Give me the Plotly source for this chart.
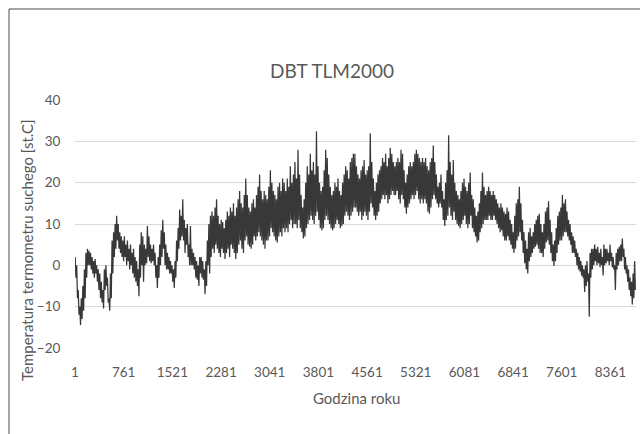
import plotly.graph_objects as go

# Daily maximum / minimum dry-bulb temperature [st.C]
tmax = [
    2, 0, -6, -10, -8, -5, -1, 3, 4, 3.5,
    3, 2, 1, 1.5, 0, -1, -2, -4, -6, -1,
    0, -3, -8, -2, 6, 8, 10, 12, 10, 8,
    7, 6, 7, 5, 6, 4, 5, 3, 4, 2,
    1, -1, 5, 8, 7, 5, 4, 9.5, 7, 5,
    4, 5, 3, 0, 2, 5, 8.5, 11, 8, 5,
    3, 2, 1, 0, -1, 1, 6, 9, 13.5, 12,
    16, 11, 9, 10, 5, 9.5, 4, 3, 2, 1,
    0, 2, 2, 1, -1, 1, 6, 10, 12, 13,
    12, 14, 16, 12, 10, 11, 10.5, 9, 11, 13,
    12, 14, 13, 15, 12, 14, 16, 18, 15, 14,
    17, 21, 17, 14, 13, 15, 16, 14, 17, 19,
    22, 18, 16, 18, 17, 16, 19, 23, 20, 18,
    17, 16, 19, 20, 18, 21, 20, 18, 21, 19,
    24, 20, 22, 25, 21, 28, 22, 17, 14, 16,
    20, 24, 22, 27, 23, 25, 22, 32.5, 24, 20,
    18, 19, 23, 28, 26, 22, 19, 17, 18, 20,
    19, 21, 18, 17, 20, 22, 24, 23, 21, 25,
    26, 27, 27, 24, 22, 21, 23, 24, 25.5, 22,
    23, 24, 32, 25, 21, 18, 20, 22, 23, 24,
    26, 25, 27, 24, 26, 28.5, 27, 25, 24, 25,
    26, 25, 28, 27, 23, 20, 22, 24, 25, 24,
    25, 27, 28, 27, 26, 25, 26, 25, 26, 24,
    23, 25, 26, 29, 25, 22, 19, 20, 22, 18,
    16, 20, 23, 31.5, 25, 22, 25.5, 20, 18, 17,
    16, 18, 20, 21, 19, 18, 20, 22.5, 17, 16,
    14, 12, 13, 15, 18, 22.5, 19, 17, 18, 19,
    18, 17, 18, 17, 16, 15, 14, 15, 14, 13,
    12.5, 14, 13, 11, 10, 8, 12, 15, 16, 19,
    15, 11, 8, 6, 4, 8, 9, 7, 8, 10,
    11, 12, 12.5, 10, 8, 10, 13, 14, 15.5, 11,
    8, 5, 6, 9, 12, 13, 14, 17, 15, 16,
    13, 11, 10, 8, 7, 6, 4, 3, 2, 1,
    0, -1, 0, 1, -2, 3, 4, 4, 5, 4,
    4.5, 3, 4, 2, 5, 4, 4, 3, 5, 3,
    2, 0, 3, 4, 4.5, 5, 6.5, 4, 2, 0,
    -1, -3, -4, -2, 1,
]
tmin = [
    -3, -8, -12, -14.5, -13, -11, -8, -3, 0, 0,
    -1, -2, -3, -2, -4, -6, -8, -9, -10.5, -6,
    -5, -9, -11, -8, -2, 2, 4, 6, 4, 3,
    2, 1, 2, 0, 1, -1, 0, -2, -3, -4,
    -5, -7.5, -3, 0, -4, 0, 0.5, 2, 1, 0.5,
    1, 0, -3, -5.5, -3, 0, 2, 4, 0, -1,
    -1, -2, -2, -4, -5.5, -3, 1, 4, 6, 7,
    6, 3, 5, 2, 0, 0, 0, -1, -3, -3.5,
    -5, -2, -3, -3.5, -7, -5, 0, -2, 2, 4,
    3, 5, 4, 3, 2, 4, 3, 1.5, 3, 4,
    2, 5, 4, 3, 1.5, 3, 5, 6, 4, 3,
    6, 7, 5, 4.5, 4, 5, 7, 6, 7, 8,
    7, 6, 5, 4, 6, 6, 7, 9, 8, 7,
    6, 5.5, 7, 8, 7, 9, 8, 9, 8, 10,
    11, 9, 10, 10, 9, 11, 9, 8, 6.5, 7,
    9, 10, 11, 12, 11, 10, 12, 13, 11, 9,
    8.5, 9, 11, 12, 11, 10, 9, 8.5, 9, 10,
    11, 10, 9, 9.5, 10, 12, 13, 12, 11, 12,
    13, 14, 14, 13, 12, 13, 11, 12, 13, 12,
    11, 13, 15, 14, 12, 11, 12, 13, 15, 16,
    17, 16, 17, 15, 16, 17, 18, 17, 17, 18,
    16, 15, 17, 16, 14, 12.5, 14, 15, 16, 17,
    16, 17, 18, 16, 15, 16, 15, 16, 15, 13,
    12.5, 14, 16, 17, 16, 15, 14, 15, 14, 11,
    9.5, 11, 12, 14, 12, 11, 13, 11, 10, 9.5,
    9, 10, 11, 12, 10, 9, 10, 12, 9, 8,
    7, 5.5, 6, 8, 9, 10, 11, 11, 11, 12,
    11, 11, 12, 11, 10, 9, 8, 8.5, 7, 6,
    6, 7, 6, 5, 4, 3, 4, 6, 7, 8,
    6, 3, 0.5, -1, -2, 1, 2, 3, 4, 4.5,
    5, 4, 3, 3, 2, 4, 5.5, 6, 5, 3,
    1, -0.2, 1, 3, 5, 6, 6, 7, 8, 8,
    7, 6, 5, 3, 3, 2, 0, -1, -1.5, -2.5,
    -3, -6.5, -5, -4, -12.5, -3, -1, 0, 1, 0,
    0.5, -0.5, 0, -2.5, 0, 0.5, 1, 0, 1, -0.5,
    -1, -6, -1, 0, 1, 1, 2, -1, -2, -4,
    -6, -7.5, -9.5, -8, -6,
]
x_ticks = [1, 761, 1521, 2281, 3041, 3801, 4561, 5321, 6081, 6841, 7601, 8361]
y_ticks = [-20, -10, 0, 10, 20, 30, 40]

title_text = "DBT TLM2000"
x_title = "Godzina roku"
y_title = "Temperatura termometru suchego [st.C]"

# hour-of-year positions: one max and one min point per day
hours, temps = [], []
for d, (hi, lo) in enumerate(zip(tmax, tmin)):
    hours += [24 * d + 3, 24 * d + 15]
    temps += [hi, lo]

FONT = "Lato, 'Open Sans', sans-serif"
TXT = "#595959"

fig = go.Figure()
fig.add_trace(go.Scatter(
    x=hours, y=temps, mode="lines",
    line=dict(color="#383838", width=1.25),
    hoverinfo="skip", showlegend=False,
))

W, H = 640, 434
ML, MR, MT, MB = 75, 4, 100, 86
PW, PH = W - ML - MR, H - MT - MB


def px(x):
    return (x - ML) / PW


def py(y):
    return (H - MB - y) / PH


fig.update_layout(
    width=W, height=H,
    margin=dict(l=ML, r=MR, t=MT, b=MB),
    paper_bgcolor="white", plot_bgcolor="white",
    font=dict(family=FONT, color=TXT),
    xaxis=dict(
        range=[0.5, 8760.5], tickmode="array", tickvals=x_ticks,
        ticktext=[str(v) for v in x_ticks],
        showgrid=False, zeroline=False, showline=False,
        ticks="outside", ticklen=12, tickcolor="rgba(0,0,0,0)",
        tickfont=dict(size=13.5, color=TXT, family=FONT),
    ),
    yaxis=dict(
        range=[-20.05, 40.05], tickmode="array", tickvals=y_ticks,
        showgrid=True, gridcolor="#d9d9d9", gridwidth=1,
        zeroline=False, showline=False,
        ticks="outside", ticklen=11, tickcolor="rgba(0,0,0,0)",
        tickfont=dict(size=13.5, color=TXT, family=FONT),
    ),
    annotations=[
        dict(text=title_text, x=px(332), y=py(70), xref="paper", yref="paper",
             showarrow=False, xanchor="center", yanchor="middle",
             font=dict(size=19, color=TXT, family=FONT)),
        dict(text=x_title, x=px(356), y=py(398), xref="paper", yref="paper",
             showarrow=False, xanchor="center", yanchor="middle",
             font=dict(size=15, color=TXT, family=FONT)),
        dict(text=y_title, x=px(27), y=py(250), xref="paper", yref="paper",
             showarrow=False, xanchor="center", yanchor="middle", textangle=-90,
             font=dict(size=15, color=TXT, family=FONT)),
    ],
    shapes=[
        dict(type="line", xref="paper", yref="paper",
             x0=px(9), y0=py(9), x1=px(641), y1=py(9),
             line=dict(color="#4a4a4a", width=1)),
        dict(type="line", xref="paper", yref="paper",
             x0=px(9), y0=py(9), x1=px(9), y1=py(435),
             line=dict(color="#4a4a4a", width=1)),
    ],
)

fig.write_html("out.html")
